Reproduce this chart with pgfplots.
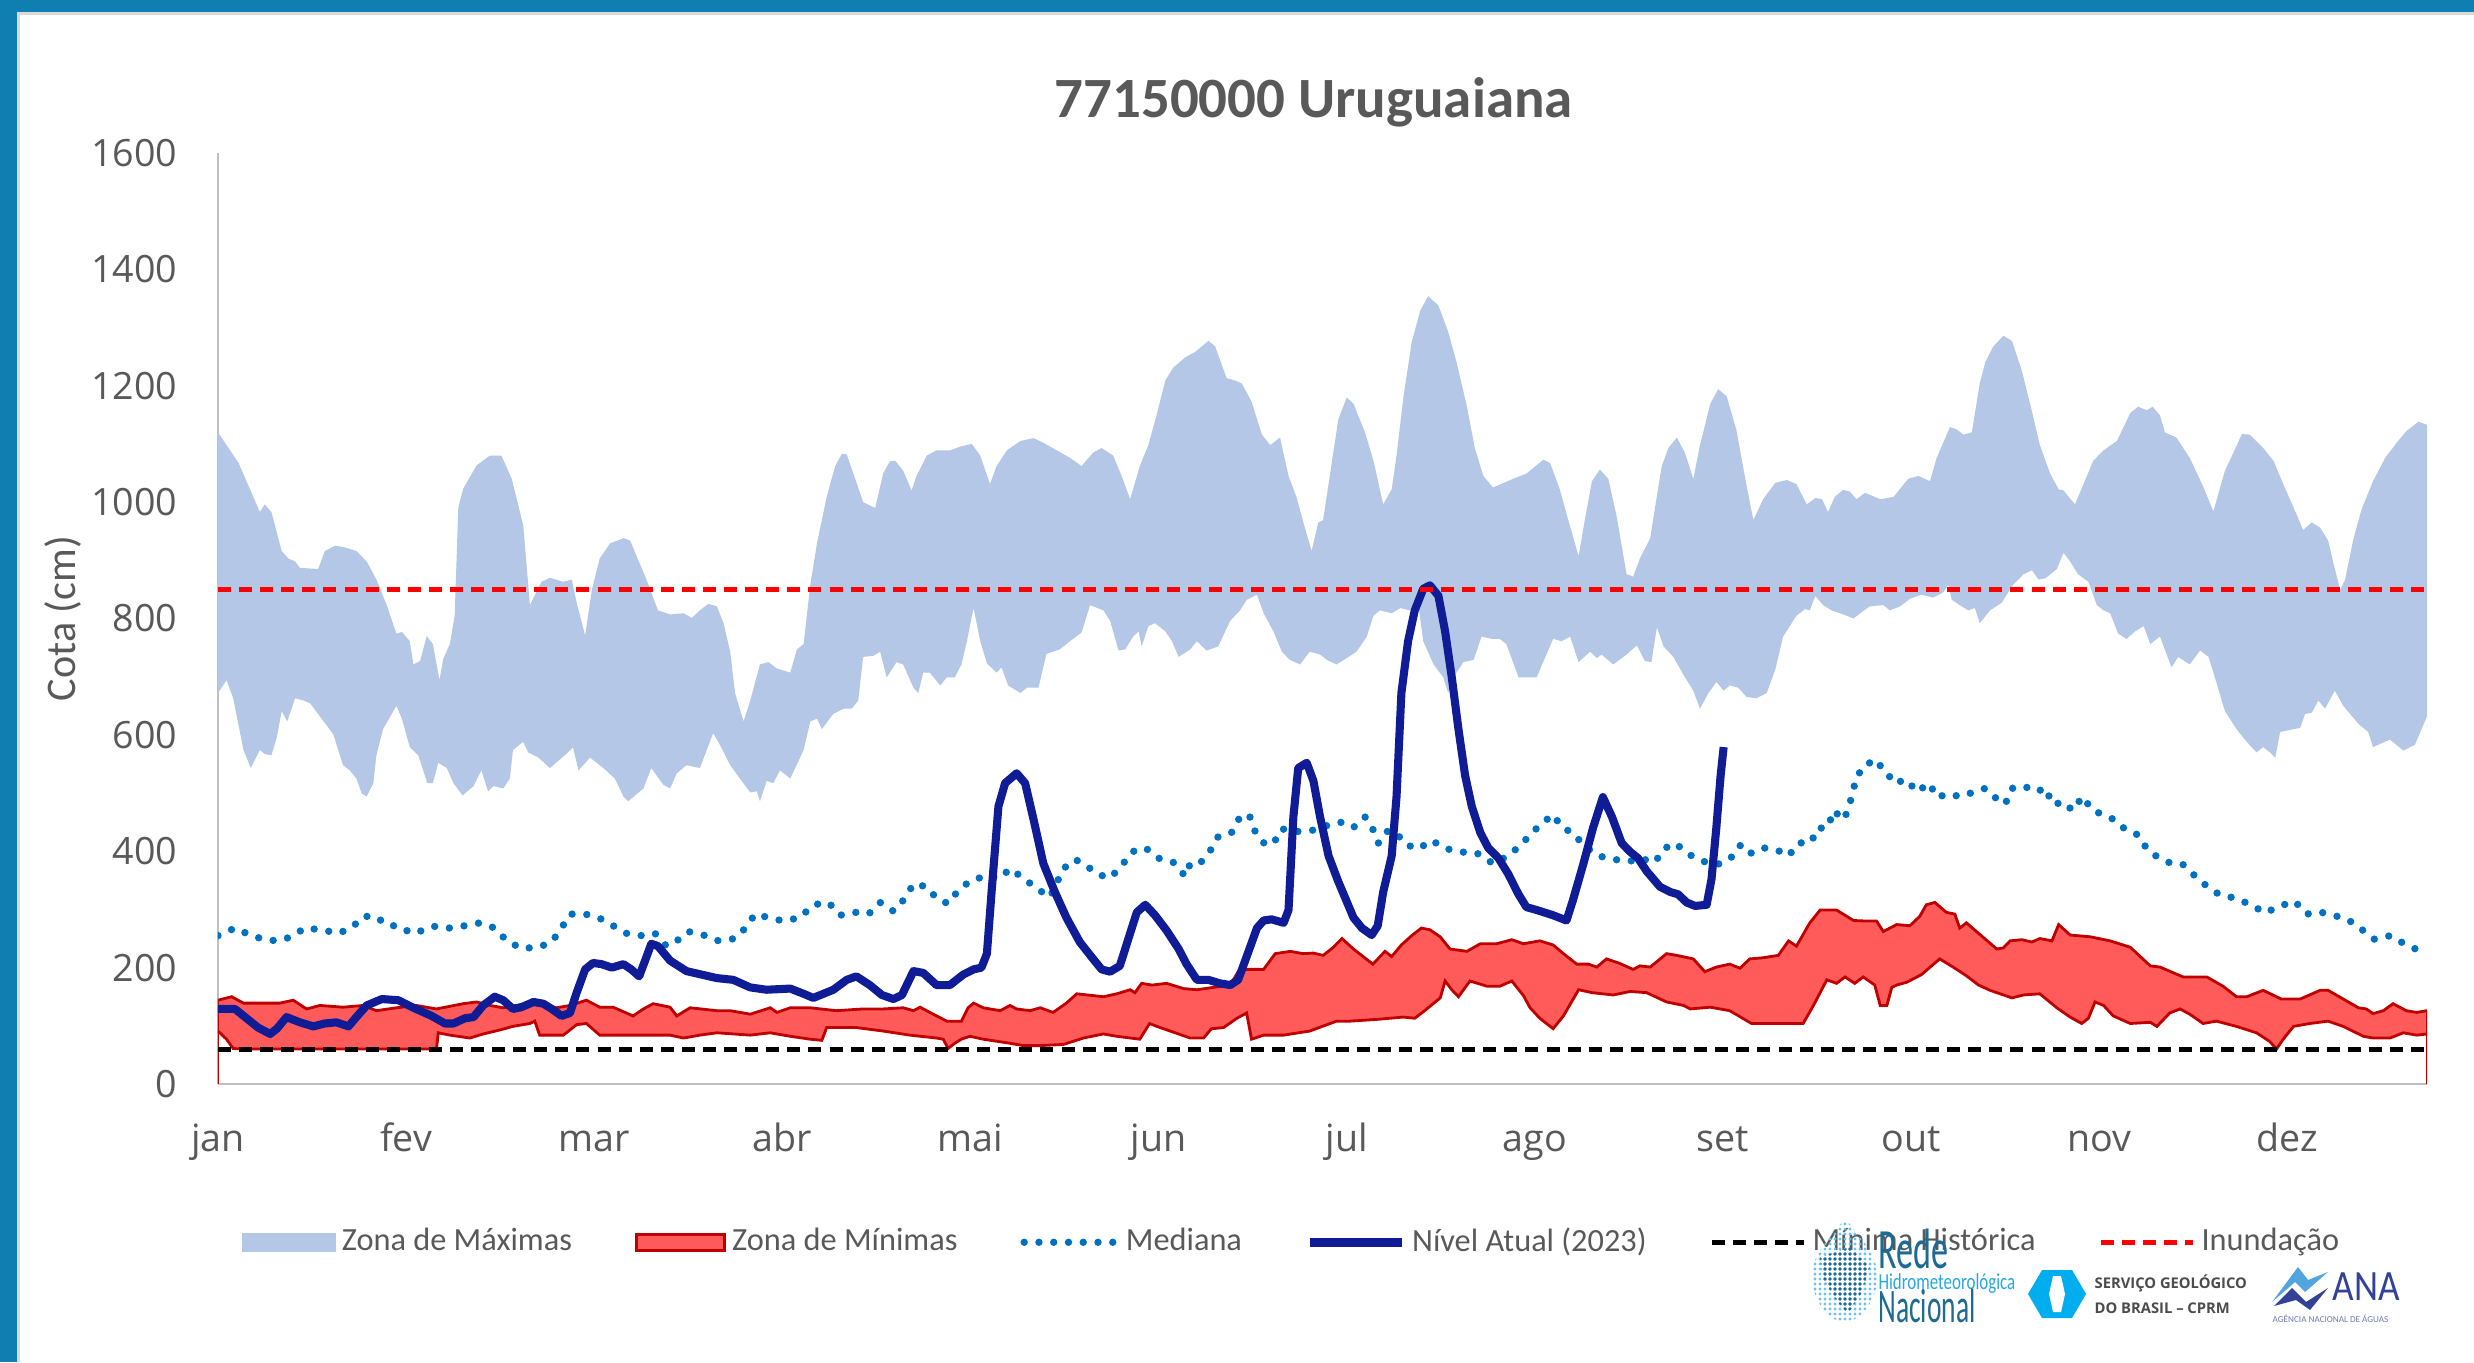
\documentclass[border=0pt]{standalone}
\usepackage{fontspec}
\setmainfont{Carlito}
\newfontfamily\tickfont{Open Sans}
\usepackage{pgfplots}
\usepackage{pgfplotstable}
\pgfplotsset{compat=1.18}

\definecolor{bordercol}{RGB}{14,127,176}
\definecolor{maxfill}{RGB}{180,199,231}
\definecolor{minfill}{RGB}{255,91,91}
\definecolor{minedge}{RGB}{192,0,0}
\definecolor{medcol}{RGB}{0,112,192}
\definecolor{atualcol}{RGB}{16,28,150}
\definecolor{txtgray}{RGB}{89,89,89}
\definecolor{axgray}{RGB}{191,191,191}
\definecolor{redeblue}{RGB}{29,106,147}
\definecolor{redelight}{RGB}{41,168,223}
\definecolor{cprmcyan}{RGB}{0,174,239}
\definecolor{anadark}{RGB}{50,66,150}
\definecolor{analight}{RGB}{80,165,222}

% Zona de Maximas, upper edge (day, cm)
\pgfplotstableread{
x y
0 1120
3.4 1067
6.9 983
7.7 996
8.8 983
10.5 916
11.6 903
12.7 898
13.5 887
16.5 885
17.6 916
19.3 925
20.6 923
22.8 916
24.5 898
26.1 867
27.8 823
29.4 774
30.3 777
31.6 761
32.2 721
33.3 727
34.4 770
35.4 756
36.5 694
37.1 730
38.2 756
39.0 805
39.6 991
40.4 1023
42.6 1063
44.8 1080
46.7 1080
48.4 1040
50.3 960
51.4 823
53.3 863
54.7 870
56.9 863
58.3 867
59.1 827
60.5 771
61.6 849
62.9 903
64.6 929
66.8 938
67.9 934
70.6 867
72.5 814
74.5 807
76.7 809
78.1 801
79.4 814
80.8 825
82.2 821
83.3 792
84.4 743
85.2 672
86.6 623
87.7 659
89.3 721
90.7 725
92.1 714
94.3 707
95.4 747
96.5 756
97.6 858
98.7 929
100.3 1009
101.7 1062
102.8 1083
103.6 1082
105.0 1040
106.3 1000
108.3 990
109.6 1049
110.7 1070
111.6 1071
112.9 1054
114.3 1020
115.1 1045
116.8 1080
118.4 1089
120.6 1089
122.5 1096
124.2 1100
125.6 1080
127.2 1031
128.3 1062
130.0 1089
132.2 1105
134.4 1110
136.0 1102
138.2 1089
140.4 1076
142.3 1062
144.2 1085
145.6 1093
147.5 1080
148.9 1045
150.3 1005
151.9 1062
153.3 1098
154.7 1151
156.1 1209
157.4 1231
159.4 1249
161.0 1258
163.2 1277
164.3 1268
166.2 1213
167.6 1209
168.7 1204
170.3 1173
172.0 1116
173.4 1098
175.0 1111
176.4 1045
177.7 1009
179.1 956
180.2 916
181.3 965
182.1 969
183.2 1045
184.6 1142
186.0 1180
187.1 1169
189.0 1120
190.4 1071
192.0 996
193.4 1022
194.2 1080
195.3 1178
196.7 1275
198.1 1329
199.4 1354
201.1 1338
202.7 1293
204.1 1240
205.8 1164
207.1 1093
208.5 1045
210.1 1025
213.4 1040
215.6 1049
218.4 1073
219.5 1067
221.1 1022
222.5 969
224.2 907
225.3 974
226.4 1036
227.7 1056
229.1 1040
230.5 974
232.1 876
233.2 872
234.3 903
236.0 938
236.8 991
237.9 1062
239.0 1093
240.4 1111
241.7 1085
243.1 1040
244.2 1098
245.9 1169
247.2 1194
248.6 1182
250.2 1124
251.9 1027
253.0 969
254.6 1005
256.6 1033
258.5 1038
260.1 1031
261.8 996
263.2 1007
264.3 1005
265.3 983
266.4 1009
267.8 1021
268.9 1018
270.0 1005
271.4 1016
273.9 1005
276.1 1009
278.5 1040
280.2 1045
282.1 1036
283.2 1076
285.4 1129
286.5 1125
287.6 1116
289.0 1120
290.3 1204
291.2 1240
292.5 1267
294.2 1286
295.6 1277
297.2 1227
298.6 1169
300.2 1098
301.9 1049
303.3 1022
304.1 1020
306.0 996
307.4 1031
309.0 1071
310.7 1089
312.9 1105
315.1 1153
316.4 1164
317.8 1158
318.8 1164
320.0 1149
320.8 1120
322.7 1111
324.9 1076
327.1 1027
328.8 984
330.7 1054
332.1 1085
333.5 1117
334.8 1116
337.0 1093
338.7 1071
340.3 1031
342.0 991
343.6 952
345.0 965
346.4 956
347.7 934
348.6 894
349.7 849
350.5 867
351.9 938
353.2 987
355.1 1036
357.1 1076
359.0 1102
360.6 1122
362.6 1138
364 1133
}\maxU

% Zona de Maximas, lower edge
\pgfplotstableread{
x y
0 672
1.4 694
2.5 663
4.2 574
5.4 543
6.9 574
7.7 567
8.8 565
9.7 596
10.5 641
11.4 623
12.7 663
14.1 659
15.2 654
16.5 636
19.0 601
20.6 548
21.7 539
22.8 525
23.7 499
24.5 494
25.6 517
26.1 565
27.2 610
29.4 650
30.3 628
31.6 579
33.0 565
34.5 517
35.4 517
36.3 552
37.7 543
38.8 517
40.3 496
42.1 512
43.4 539
44.5 503
45.4 512
47.0 508
48.1 525
48.6 574
50.3 588
51.1 570
52.8 561
54.7 543
57.7 570
58.5 579
59.4 539
61.3 561
63.5 543
65.4 525
66.8 494
67.6 486
70.1 508
71.4 543
73.4 514
74.5 508
75.6 534
77.2 548
79.4 543
81.6 603
82.7 583
84.4 548
86.0 525
87.7 501
88.8 503
89.3 486
90.4 521
91.5 517
92.6 539
94.3 525
96.5 574
97.6 623
98.7 628
99.5 610
101.4 636
103.1 645
104.4 645
105.5 659
106.3 734
108.0 736
109.1 743
110.2 699
111.8 725
112.9 721
114.6 681
115.4 672
116.2 707
117.3 707
119.0 685
120.1 699
121.4 699
122.5 721
123.4 761
124.5 818
125.6 761
126.7 723
128.3 707
129.1 716
130.2 685
132.2 672
133.3 681
135.2 681
136.5 739
138.7 747
140.4 761
142.3 776
143.7 823
145.9 814
147.0 796
148.4 745
149.5 747
150.8 769
151.7 778
152.2 752
153.3 787
154.4 792
156.1 778
157.2 761
158.3 734
160.2 747
161.3 761
162.9 745
164.8 752
166.8 796
168.4 814
169.5 832
171.2 841
172.3 809
173.9 778
175.3 743
176.6 729
178.3 721
179.9 743
181.6 738
182.7 729
184.3 721
186.3 734
187.6 743
189.3 769
190.4 805
191.5 814
193.4 809
194.8 818
196.4 814
197.8 823
198.6 761
200.3 721
201.9 699
202.7 672
203.6 699
205.2 725
206.9 729
208.2 769
209.9 765
211.2 765
212.3 756
214.3 699
217.3 699
220.0 765
221.4 761
222.8 769
224.2 725
226.1 743
227.2 732
228.0 738
229.9 721
232.1 738
233.8 754
235.1 727
236.2 725
237.1 785
238.2 752
239.8 734
241.5 703
243.1 676
244.2 645
245.6 672
246.9 691
248.1 676
249.1 685
250.5 681
251.9 665
253.5 663
255.2 672
256.6 712
257.9 769
260.1 805
261.5 816
262.3 814
263.2 839
264.5 823
265.9 814
267.8 807
269.5 800
270.6 809
272.2 821
274.4 823
275.5 814
277.2 821
278.8 834
280.7 841
282.6 836
284.3 845
285.1 858
285.7 832
287.0 823
288.4 814
289.5 818
290.3 792
292.0 814
293.9 827
295.8 858
297.5 876
298.9 883
300.0 867
301.1 869
303.0 885
304.1 913
305.2 898
306.5 876
308.2 863
309.6 823
310.7 814
311.8 809
313.1 774
314.5 765
315.9 778
317.3 787
318.4 756
320.0 769
321.9 716
323.0 734
324.9 721
326.6 745
328.0 734
329.3 690
330.7 641
332.6 610
334.3 588
335.9 570
337.0 579
338.1 570
339.0 561
339.8 605
343.1 612
343.9 636
345.0 638
346.1 659
347.2 645
348.8 676
350.2 650
352.7 619
354.3 605
355.1 579
357.9 592
360.1 573
362.0 583
364 632
}\maxL

% Zona de Minimas, upper edge
\pgfplotstableread{
x y
0 144
2.25 150
4.2 139
10.2 139
12.4 144
14.6 129
16.8 135
20.6 132
23.9 135
26.1 126
29.4 131
32.7 135
36.0 129
40.4 138
42.6 141
44.8 135
47.0 131
49.2 135
51.4 139
53.6 135
55.8 131
58.0 135
60.7 144
62.9 132
65.1 132
68.4 117
70.1 129
71.7 138
74.5 132
75.6 117
77.8 131
82.2 126
84.4 126
87.7 120
91.0 131
92.1 123
94.3 131
97.6 131
101.9 126
106.3 129
109.6 129
112.9 131
114.6 126
115.7 132
118.4 117
120.1 108
122.5 108
123.6 131
124.5 139
126.1 131
128.9 126
130.5 135
131.6 129
133.8 126
135.5 131
137.6 123
139.8 139
141.5 155
145.9 150
148.1 155
150.3 162
151.1 157
152.2 173
153.9 170
156.3 173
159.1 164
161.3 162
164.0 166
166.8 170
168.1 193
169.5 197
172.3 197
174.2 224
176.7 228
178.8 224
180.5 225
182.1 221
183.8 235
185.2 250
187.1 232
188.7 219
190.3 206
192.3 228
193.4 219
195.0 239
196.7 255
198.3 268
199.7 265
201.4 253
203.0 232
205.8 228
208.0 241
210.7 241
213.2 248
215.1 241
217.8 246
220.0 239
221.7 224
223.9 206
225.8 206
227.2 201
228.8 215
230.8 208
233.2 197
234.3 203
236.0 201
238.7 224
240.4 221
243.1 215
245.0 193
246.9 201
249.1 206
250.8 199
252.4 215
254.6 217
257.1 221
258.8 246
260.1 237
262.3 277
264.0 299
266.7 299
269.5 281
271.7 280
273.3 280
274.4 262
276.6 274
278.8 272
280.4 288
281.5 308
282.9 312
284.8 295
286.2 292
287.0 268
288.1 277
290.1 259
293.1 232
294.2 234
295.3 246
297.2 248
298.9 244
300.2 250
302.2 246
303.3 274
305.2 256
308.5 253
311.8 246
315.1 235
318.4 203
320.0 201
323.8 184
327.7 184
330.4 168
332.6 150
334.3 150
337.0 161
340.0 146
343.1 146
346.4 161
347.7 161
350.2 146
352.7 131
354.0 129
355.1 121
356.8 126
358.4 138
360.6 126
362.3 123
364 126
}\minU

% Zona de Minimas, lower edge
\pgfplotstableread{
x y
0 91
1.4 77
2.5 61
4.2 60
36.0 60
36.3 88
38.2 84
41.5 79
43.7 86
46.5 93
48.6 99
51.4 104
52.2 108
53.0 84
56.9 84
59.1 102
60.7 104
62.9 84
74.5 84
76.7 79
79.4 84
82.2 88
87.7 84
91.0 88
94.3 82
97.6 77
99.5 75
100.3 97
105.2 97
109.6 91
114.0 84
118.4 79
119.5 77
120.3 61
121.4 70
122.5 77
123.9 82
126.1 77
130.5 70
132.7 66
135.5 66
139.3 68
142.6 79
145.9 86
148.1 82
151.9 77
153.5 104
154.7 99
156.9 91
160.2 79
162.4 79
163.7 95
165.7 97
167.9 113
169.5 122
170.3 77
172.3 84
175.6 84
179.9 91
184.3 108
186.5 108
190.9 111
195.3 115
197.2 113
198.6 124
201.4 148
202.2 177
203.3 162
204.4 150
206.3 177
209.1 168
211.2 168
213.2 177
215.1 152
216.2 131
217.8 113
220.0 95
221.7 117
224.2 162
226.4 157
229.9 153
232.7 159
235.4 157
238.7 141
241.5 135
242.6 129
245.9 132
249.1 126
252.7 104
261.2 104
262.9 135
265.1 179
266.7 173
268.1 184
269.7 173
271.1 184
273.0 170
273.9 135
275.0 135
275.8 166
276.6 170
278.3 175
280.7 188
283.7 215
285.9 201
288.1 186
290.1 170
292.0 161
295.6 148
297.5 153
300.2 155
303.0 131
305.2 115
307.1 104
308.2 113
309.3 141
310.7 135
312.3 117
315.1 104
318.4 106
319.5 99
321.6 122
323.3 129
324.9 120
327.1 104
329.3 108
332.6 99
335.9 88
338.1 73
339.2 60
340.3 77
342.0 99
344.7 104
347.7 108
350.2 99
353.5 82
355.1 79
357.9 79
360.1 88
362.3 84
364 86
}\minL

% Mediana
\pgfplotstableread{
x y
0 255
2.8 268
5.3 256
7.7 248
9.9 246
12.1 253
14.3 268
17.1 265
19.8 259
22.0 268
23.9 288
25.9 288
28.1 272
29.7 272
31.9 259
33.8 264
35.5 271
38.2 268
40.7 272
43.2 277
45.6 268
47.6 246
50.0 233
52.8 235
55.0 244
56.6 268
58.0 292
60.5 292
62.7 286
65.1 272
67.3 259
69.8 255
72.0 259
73.9 237
75.6 246
77.5 262
80.0 256
82.5 246
85.2 250
86.9 268
88.5 292
90.7 286
93.2 280
95.9 286
98.1 308
100.6 312
102.5 290
105.0 295
107.2 292
109.1 312
111.3 297
113.2 319
114.6 344
116.8 339
118.4 319
120.3 310
122.0 333
124.2 351
126.7 357
128.9 354
130.5 370
132.7 354
134.9 336
137.1 321
139.3 370
141.2 386
142.9 377
144.8 361
147.0 354
148.9 375
150.6 399
152.8 406
155.0 388
157.4 381
159.4 357
160.2 379
161.8 379
163.5 401
164.8 425
167.0 432
168.4 459
169.9 463
170.9 434
172.5 412
173.9 413
175.3 439
176.6 434
178.6 434
181.0 437
183.2 446
185.2 450
187.1 441
189.0 459
190.1 443
191.2 414
192.6 434
194.0 434
195.6 412
197.8 404
200.0 419
201.9 406
204.4 399
207.4 397
210.1 379
212.6 392
214.8 412
216.7 434
218.7 452
219.9 463
221.7 439
223.3 432
225.0 410
227.5 392
229.9 386
232.7 383
234.3 388
236.8 381
238.2 404
240.1 414
242.3 395
244.6 383
247.0 377
249.1 386
250.8 410
252.2 395
254.6 406
257.1 401
258.8 392
260.4 414
262.6 416
263.4 439
265.3 441
266.2 470
267.9 454
268.8 477
269.4 505
270.3 534
271.4 539
272.5 558
274.7 541
276.1 517
278.3 523
279.9 502
282.0 517
283.2 493
285.5 499
286.8 494
288.1 497
289.5 503
291.2 508
293.1 490
294.5 481
295.6 508
297.6 512
299.6 502
301.2 509
302.2 481
304.4 484
305.5 470
307.3 494
308.7 472
310.9 461
312.8 453
314.2 438
316.4 428
317.9 403
319.6 390
321.3 381
323.6 379
325.4 361
327.5 342
329.7 326
332.5 319
335.0 308
337.3 294
339.8 306
342.2 314
344.2 292
346.2 296
348.6 290
350.9 283
353.2 266
355.3 249
358.0 255
360.4 240
363.0 228
}\mediana

% Nivel Atual (2023)
\pgfplotstableread{
x y
0 129
2.8 129
4.7 113
6.6 97
8.6 86
9.7 95
11.3 115
13.5 106
15.7 99
17.6 104
19.5 106
21.5 99
22.8 115
24.5 135
27.0 146
29.7 144
32.2 131
35.2 117
37.4 104
38.8 104
40.7 113
42.1 115
43.7 135
45.6 150
47.0 144
48.6 129
50.0 132
52.0 141
53.6 138
55.0 129
56.6 117
58.0 122
59.1 157
60.5 197
61.8 208
63.2 206
64.9 200
66.8 206
68.1 197
69.4 185
70.3 210
71.4 241
72.5 237
74.5 212
77.2 194
82.2 182
84.9 179
87.7 166
90.4 162
94.3 164
96.5 155
98.1 148
101.4 162
103.6 179
105.2 185
107.4 170
109.4 153
111.3 146
112.7 153
114.6 194
116.2 191
118.4 170
120.6 170
122.8 188
124.5 197
125.8 200
126.7 224
127.5 334
128.6 477
129.7 517
131.6 534
133.0 517
134.4 454
136.0 379
137.9 330
139.8 286
142.0 244
144.2 215
145.6 197
147.0 193
148.6 203
150.3 259
151.4 295
152.8 308
154.4 290
156.3 264
158.3 232
159.6 206
161.3 179
163.2 179
165.1 173
166.8 170
168.1 179
169.5 219
171.2 268
172.3 281
173.6 283
175.6 277
176.4 299
177.2 459
178.0 543
179.4 552
180.5 521
181.6 459
183.0 392
184.6 348
187.1 286
188.5 268
190.1 256
191.1 272
192.0 330
193.4 392
194.2 494
195.0 672
196.1 761
197.2 814
198.6 851
199.7 857
201.1 839
202.2 778
203.3 699
204.4 610
205.5 530
206.6 477
208.0 432
209.3 406
211.0 388
212.6 361
214.3 326
215.6 304
217.3 299
220.0 290
222.2 281
223.3 317
225.0 379
226.6 441
228.2 493
229.7 459
231.3 414
232.7 399
234.0 388
235.4 366
237.6 339
239.3 330
240.6 326
242.0 312
243.4 306
245.3 308
246.1 352
246.9 441
247.6 530
248.1 579
}\atual

% closed outlines of the two zones: upper edge forward, lower edge backward
\pgfplotstablesort[sort key=x, sort cmp={float >}]{\maxLrev}{\maxL}
\pgfplotstablesort[sort key=x, sort cmp={float >}]{\minLrev}{\minL}
\pgfplotstablevertcat{\maxband}{\maxU}
\pgfplotstablevertcat{\maxband}{\maxLrev}
\pgfplotstablevertcat{\minband}{\minU}
\pgfplotstablevertcat{\minband}{\minLrev}

\begin{document}
\begin{tikzpicture}
% panel and blue frame
\fill[bordercol] (0,0) rectangle (24.74,13.62);
\fill[white] (0.17,0) rectangle (24.74,13.50);
\draw[black!15, line width=0.03cm] (0.185,0) -- (0.185,13.485) -- (24.74,13.485);

\begin{axis}[
  at={(2.18cm,2.78cm)}, anchor=south west,
  scale only axis, width=22.09cm, height=9.31cm,
  xmin=0, xmax=364, ymin=0, ymax=1600,
  axis x line=bottom, axis y line=left,
  axis line style={-, draw=axgray, line width=0.7pt},
  xtick={0,31,...,341},
  xticklabels={jan,fev,mar,abr,mai,jun,jul,ago,set,out,nov,dez},
  ytick={0,200,...,1600},
  major tick length=0pt,
  /pgf/number format/assume math mode=true,
  /pgf/number format/1000 sep={},
  tick label style={font=\tickfont\fontsize{10.7}{12}\selectfont, text=txtgray},
  yticklabel style={anchor=east, inner sep=0pt, xshift=-0.4cm},
  xticklabel style={anchor=base, inner sep=0pt, yshift=-0.67cm},
  title={77150000 Uruguaiana},
  title style={at={(axis description cs:0.496,1)}, anchor=base, yshift=0.14cm,
    inner sep=0pt, font=\bfseries\fontsize{16.2}{19}\selectfont, text=txtgray},
  ylabel={Cota (cm)},
  every axis y label/.style={at={(axis description cs:-0.0702,0.5)}, rotate=90,
    anchor=center, font=\fontsize{12}{14}\selectfont, text=txtgray},
  legend style={at={(0.487,-0.17)}, anchor=center, draw=none, fill=none,
    legend columns=6, font=\fontsize{9.2}{11}\selectfont, text=txtgray,
    inner sep=0pt, nodes={inner sep=0.06cm},
    /tikz/every even column/.append style={column sep=0.57cm}},
  legend cell align=left,
  legend image code/.code={\draw[#1] (0cm,0cm) -- (0.92cm,0cm);},
]
% Zona de Maximas
\addplot[fill=maxfill, draw=none, forget plot] table {\maxband};
% Zona de Minimas
\addplot[fill=minfill, draw=none, forget plot] table {\minband};
\addplot[minedge, line width=0.8pt, forget plot] table {\minU};
\addplot[minedge, line width=0.8pt, forget plot] table {\minL};
\addplot[minedge, line width=0.8pt, forget plot] coordinates {(0,0) (0,144)};
\addplot[minedge, line width=0.8pt, forget plot] coordinates {(364,0) (364,126)};
% Mediana
\addplot[medcol, line width=2.1pt, line cap=round, dash pattern=on 0pt off 4.2pt, forget plot] table {\mediana};
% Nivel atual
\addplot[atualcol, line width=2.3pt, line join=round, forget plot] table {\atual};
% Minima historica e inundacao
\addplot[black, line width=1.4pt, dash pattern=on 3.7pt off 2.3pt, forget plot] coordinates {(0,60) (364,60)};
\addplot[red, line width=1.4pt, dash pattern=on 3.7pt off 2.3pt, forget plot] coordinates {(0,850) (364,850)};

\addlegendimage{legend image code/.code={\fill[maxfill] (0cm,-0.09cm) rectangle (0.92cm,0.09cm);}}
\addlegendentry{Zona de Máximas}
\addlegendimage{legend image code/.code={\filldraw[fill=minfill, draw=minedge, line width=0.9pt] (0.02cm,-0.08cm) rectangle (0.90cm,0.08cm);}}
\addlegendentry{Zona de Mínimas}
\addlegendimage{medcol, line width=2.1pt, line cap=round, dash pattern=on 0pt off 4.2pt}
\addlegendentry{Mediana}
\addlegendimage{atualcol, line width=2.6pt}
\addlegendentry{Nível Atual (2023)}
\addlegendimage{black, line width=1.4pt, dash pattern=on 3.7pt off 2.3pt}
\addlegendentry{Mínima Histórica}
\addlegendimage{red, line width=1.4pt, dash pattern=on 3.7pt off 2.3pt}
\addlegendentry{Inundação}
\end{axis}

% logos
\begin{scope}
  \clip (18.45,1.44) .. controls (18.62,1.22) and (18.80,1.05) .. (18.77,0.80)
    .. controls (18.74,0.55) and (18.56,0.40) .. (18.45,0.40)
    .. controls (18.30,0.40) and (18.12,0.60) .. (18.12,0.86)
    .. controls (18.12,1.10) and (18.32,1.25) .. (18.45,1.44) -- cycle;
  \foreach \i in {0,...,13} \foreach \j in {0,...,20}
    \fill[redelight!70] (18.10+\i*0.05, 0.38+\j*0.05) circle (0.017);
  \clip (18.20,1.05) -- (18.50,1.15) -- (18.70,0.95) -- (18.62,0.70) -- (18.48,0.48) -- (18.36,0.62) -- (18.22,0.85) -- cycle;
  \foreach \i in {0,...,13} \foreach \j in {0,...,20}
    \fill[redeblue] (18.10+\i*0.05, 0.38+\j*0.05) circle (0.019);
\end{scope}
\node[anchor=base west, inner sep=0pt, text=redeblue, xscale=0.6,
  font=\fontsize{16.2}{18}\selectfont] at (18.78,0.94) {Rede};
\node[anchor=base west, inner sep=0pt, text=redelight, xscale=0.74,
  font=\fontsize{6.5}{7}\selectfont] at (18.78,0.73) {Hidrometeorológica};
\node[anchor=base west, inner sep=0pt, text=redeblue, xscale=0.57,
  font=\fontsize{13.7}{15}\selectfont] at (18.78,0.40) {Nacional};

\fill[cprmcyan] (20.28,0.68) -- (20.42,0.92) -- (20.72,0.92) -- (20.86,0.68) -- (20.72,0.44) -- (20.42,0.44) -- cycle;
\fill[white] (20.49,0.68) -- (20.53,0.86) -- (20.61,0.86) -- (20.65,0.68) -- (20.61,0.50) -- (20.53,0.50) -- cycle;
\node[anchor=base west, inner sep=0pt, text=black!70,
  font=\tickfont\bfseries\fontsize{4.2}{5}\selectfont] at (20.94,0.74) {SERVIÇO GEOLÓGICO};
\node[anchor=base west, inner sep=0pt, text=black!70,
  font=\tickfont\bfseries\fontsize{4.2}{5}\selectfont] at (20.94,0.49) {DO BRASIL – CPRM};

\fill[analight] (22.72,0.60) -- (22.98,0.95) -- (23.08,0.82) -- (23.28,0.90) -- (23.05,0.70) -- (22.95,0.80) -- cycle;
\fill[anadark] (22.74,0.56) -- (22.92,0.74) -- (23.06,0.60) -- (23.28,0.74) -- (23.10,0.52) -- (22.96,0.62) -- cycle;
\node[anchor=base west, inner sep=0pt, text=anadark, xscale=0.86,
  font=\fontsize{12.3}{14}\selectfont] at (23.32,0.62) {ANA};
\node[anchor=base west, inner sep=0pt, text=anadark!70,
  font=\fontsize{2.6}{3}\selectfont] at (22.72,0.40) {AGÊNCIA NACIONAL DE ÁGUAS};

\pgfresetboundingbox
\path[use as bounding box] (0,0) rectangle (24.74,13.62);
\end{tikzpicture}
\end{document}
